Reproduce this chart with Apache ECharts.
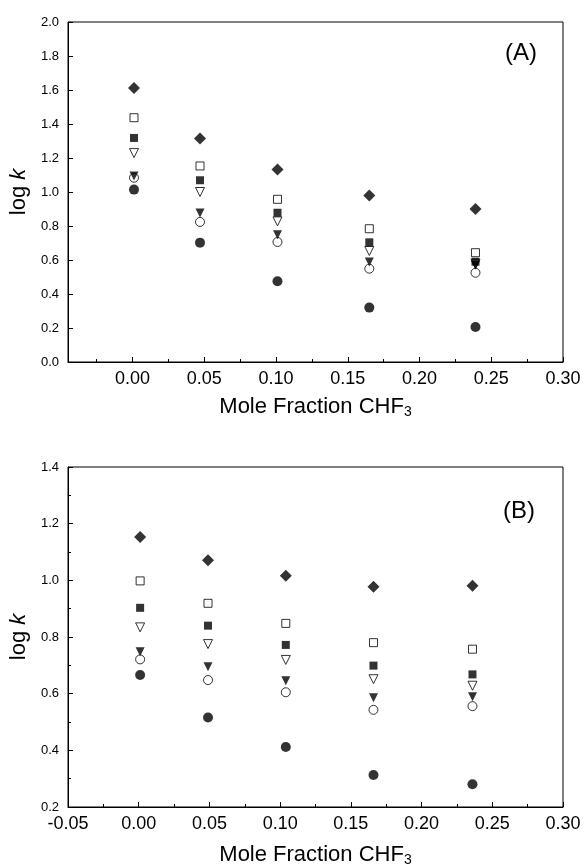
<!DOCTYPE html>
<html>
<head>
<meta charset="utf-8">
<title>log k vs Mole Fraction CHF3</title>
<script src="https://cdn.jsdelivr.net/npm/echarts@6/dist/echarts.min.js"></script>
<style>html,body{margin:0;background:#fff}</style>
</head>
<body>
<div id="chart" style="width:584px;height:868px;"></div>
<script>
// mole fractions
var xA = [0.001, 0.047, 0.101, 0.165, 0.239];
var xB = [0.001, 0.049, 0.104, 0.166, 0.236];

// panel A, log k per marker type
var aDiamond = [1.612, 1.314, 1.133, 0.980, 0.900];
var aOpenSquare = [1.437, 1.153, 0.957, 0.784, 0.643];
var aSquare = [1.318, 1.069, 0.878, 0.704, 0.590];
var aOpenTri = [1.229, 1.000, 0.827, 0.653, 0.578];
var aTri = [1.094, 0.876, 0.749, 0.588, 0.569];
var aOpenCircle = [1.084, 0.824, 0.706, 0.549, 0.525];
var aCircle = [1.014, 0.702, 0.475, 0.320, 0.206];

// panel B
var bDiamond = [1.153, 1.071, 1.016, 0.977, 0.981];
var bOpenSquare = [0.998, 0.919, 0.848, 0.780, 0.757];
var bSquare = [0.903, 0.840, 0.772, 0.699, 0.668];
var bOpenTri = [0.834, 0.775, 0.719, 0.651, 0.628];
var bTri = [0.748, 0.695, 0.646, 0.586, 0.589];
var bOpenCircle = [0.721, 0.648, 0.605, 0.543, 0.556];
var bCircle = [0.666, 0.516, 0.412, 0.313, 0.280];

var yTicksA = [0, 2.0, 0.2];
var yTicksB = [0.2, 1.4, 0.2];

var font = 'Liberation Sans, Arial, sans-serif';

// marker look for each of the 7 series, same order in both panels
var looks = [
  {symbol: 'diamond', size: 12, fill: '#000', rot: 0},
  {symbol: 'rect', size: 8, fill: '#fff', rot: 0},
  {symbol: 'rect', size: 8, fill: '#000', rot: 0},
  {symbol: 'triangle', size: 9, fill: '#fff', rot: 180},
  {symbol: 'triangle', size: 9, fill: '#000', rot: 180},
  {symbol: 'circle', size: 9, fill: '#fff', rot: 0},
  {symbol: 'circle', size: 10, fill: '#000', rot: 0}
];

function makeSeries(idx, xs, sets) {
  var out = [];
  for (var i = 0; i < sets.length; i++) {
    var pts = [];
    for (var j = 0; j < xs.length; j++) pts.push([xs[j], sets[i][j]]);
    var lk = looks[i];
    out.push({
      type: 'scatter',
      xAxisIndex: idx,
      yAxisIndex: idx,
      data: pts,
      symbol: lk.symbol,
      symbolSize: lk.size,
      symbolRotate: lk.rot,
      itemStyle: {color: lk.fill, borderColor: '#000', borderWidth: lk.fill == '#fff' ? 1 : 0},
      emphasis: {disabled: true},
      z: lk.fill == '#fff' ? 2 : 3
    });
  }
  return out;
}

function xAxis(idx, min, interval, gap) {
  var ax = {
    type: 'value',
    gridIndex: idx,
    min: min,
    max: 0.30,
    name: 'Mole Fraction CHF{s|3}',
    nameLocation: 'middle',
    nameGap: gap,
    nameTextStyle: {fontFamily: font, fontSize: 22, color: '#000',
      rich: {s: {fontFamily: font, fontSize: 14, color: '#000', verticalAlign: 'bottom', padding: [10, 0, 0, 0]}}},
    axisLine: {show: true, onZero: false, lineStyle: {color: '#000', width: 1}},
    axisTick: {show: true, inside: true, length: 5, lineStyle: {color: '#000'}},
    minorTick: {show: true, splitNumber: 2, length: 3, lineStyle: {color: '#000'}},
    splitLine: {show: false},
    axisLabel: {fontFamily: font, fontSize: 18, color: '#000', margin: 8,
      formatter: function (v) { return v.toFixed(2); }}
  };
  if (interval) ax.interval = interval;
  else ax.axisLabel.showMinLabel = false;
  return ax;
}

function yAxis(idx, t, minor) {
  return {
    type: 'value',
    gridIndex: idx,
    min: t[0],
    max: t[1],
    interval: t[2],
    name: 'log {i|k}',
    nameLocation: 'middle',
    nameRotate: 90,
    nameGap: 36,
    nameTextStyle: {fontFamily: font, fontSize: 22, color: '#000',
      rich: {i: {fontFamily: font, fontSize: 22, fontStyle: 'italic', color: '#000'}}},
    axisLine: {show: true, onZero: false, lineStyle: {color: '#000', width: 1}},
    axisTick: {show: true, inside: true, length: 5, lineStyle: {color: '#000'}},
    minorTick: {show: minor, splitNumber: 2, length: 3, lineStyle: {color: '#000'}},
    splitLine: {show: false},
    axisLabel: {fontFamily: font, fontSize: 13, color: '#000', margin: 9,
      formatter: function (v) { return v.toFixed(1); }}
  };
}

var chart = echarts.init(document.getElementById('chart'));
chart.setOption({
  animation: false,
  backgroundColor: '#fff',
  grid: [
    {left: 68, top: 22, width: 495, height: 340, show: true, borderColor: '#000', borderWidth: 1},
    {left: 68, top: 467, width: 495, height: 340, show: true, borderColor: '#000', borderWidth: 1}
  ],
  xAxis: [xAxis(0, -0.045, null, 33), xAxis(1, -0.05, 0.05, 36)],
  yAxis: [yAxis(0, yTicksA, false), yAxis(1, yTicksB, true)],
  graphic: [
    {type: 'text', left: 505, top: 41, style: {text: '(A)', font: '24px ' + font, fill: '#000'}},
    {type: 'text', left: 503, top: 499, style: {text: '(B)', font: '24px ' + font, fill: '#000'}}
  ],
  series: makeSeries(0, xA, [aDiamond, aOpenSquare, aSquare, aOpenTri, aTri, aOpenCircle, aCircle])
    .concat(makeSeries(1, xB, [bDiamond, bOpenSquare, bSquare, bOpenTri, bTri, bOpenCircle, bCircle]))
});
</script>
</body>
</html>
